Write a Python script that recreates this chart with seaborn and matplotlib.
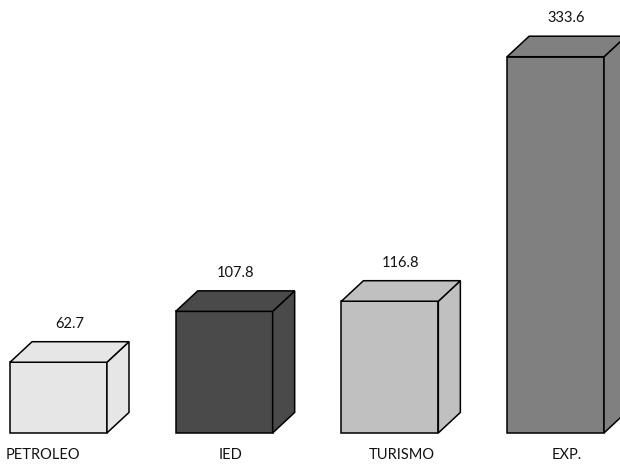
import matplotlib
matplotlib.use("Agg")
import matplotlib.pyplot as plt
from matplotlib.patches import Polygon
import seaborn as sns

categories = ["PETROLEO", "IED", "TURISMO", "EXP."]
values = [62.7, 107.8, 116.8, 333.6]
value_labels = ["62.7", "107.8", "116.8", "333.6"]
colors = ["#e6e6e6", "#4a4a4a", "#c0c0c0", "#808080"]

sns.set_theme(style="white")
plt.rcParams["font.family"] = ["Lato", "DejaVu Sans"]

fig = plt.figure(figsize=(6.2, 4.66), dpi=100)
ax = fig.add_axes([0, 0, 1, 1])

sns.barplot(x=categories, y=values, hue=categories, palette=colors,
            width=0.585, edgecolor="black", linewidth=1.1,
            legend=False, saturation=1, ax=ax)

ax.set_xlim(-0.353, 3.389)
ax.set_ylim(-29.3, 383.9)
ax.axis("off")

# depth of the 3D extrusion, in data units
dx = 0.133
dy = 18.2

bars = sorted(ax.patches, key=lambda p: p.get_x())
for bar, col, lab, cat in zip(bars, colors, value_labels, categories):
    xl = bar.get_x()
    w = bar.get_width()
    h = bar.get_height()
    xr = xl + w
    side = Polygon([(xr, 0), (xr + dx, dy), (xr + dx, h + dy), (xr, h)],
                   closed=True, facecolor=col, edgecolor="black",
                   linewidth=1.1, zorder=bar.get_zorder())
    top = Polygon([(xl, h), (xl + dx, h + dy), (xr + dx, h + dy), (xr, h)],
                  closed=True, facecolor=col, edgecolor="black",
                  linewidth=1.1, zorder=bar.get_zorder())
    ax.add_patch(side)
    ax.add_patch(top)
    ax.annotate(lab, (xl + (w + dx) / 2, h + dy), xytext=(0, 8),
                textcoords="offset points", ha="center", va="bottom",
                fontsize=10.5, color="#111111")

# category names under the bars
label_x = [0.0 - 0.095, 1.0 + 0.04, 2.0 + 0.07, 3.0 + 0.07]
for xpos, cat in zip(label_x, categories):
    ax.annotate(cat, (xpos, 0), xytext=(0, -16), textcoords="offset points",
                ha="center", va="center", fontsize=10.5, color="#111111")

fig.savefig("out.png", dpi=100)
